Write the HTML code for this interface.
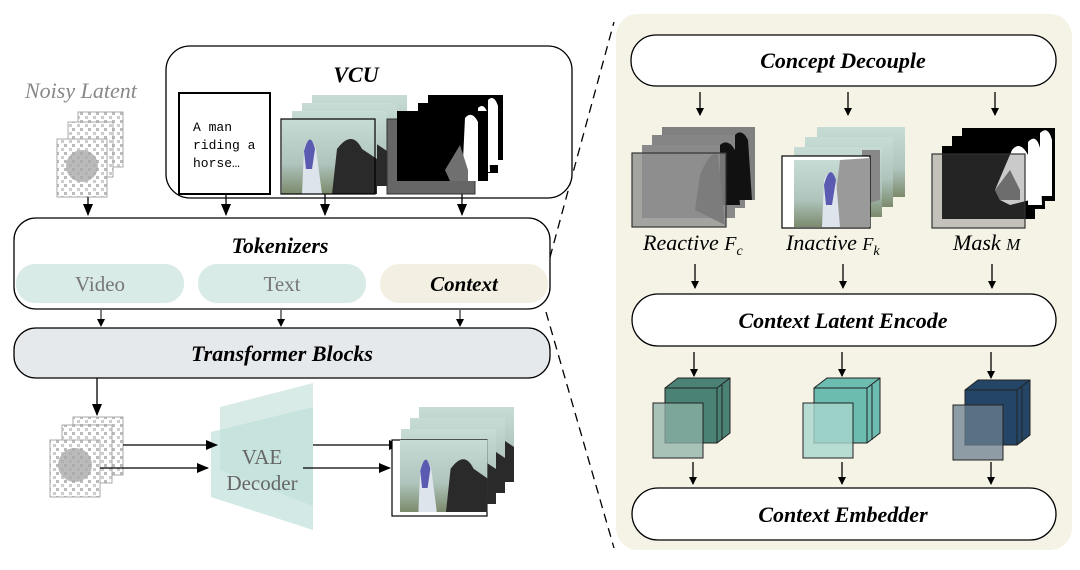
<!DOCTYPE html>
<html><head><meta charset="utf-8"><style>
html,body{margin:0;padding:0;background:#fff;}
svg{display:block;}
.b{font-family:"Liberation Serif",serif;font-weight:bold;font-style:italic;}
.s{font-family:"Liberation Serif",serif;}
</style></head><body>
<svg width="1080" height="570" viewBox="0 0 1080 570" xmlns="http://www.w3.org/2000/svg">
<defs>
<marker id="a" markerWidth="8" markerHeight="8" refX="7" refY="4" orient="auto" markerUnits="userSpaceOnUse">
<path d="M0,0 L8,4 L0,8 z" fill="#000"/></marker>
<marker id="a2" markerWidth="12" markerHeight="10" refX="11" refY="5" orient="auto" markerUnits="userSpaceOnUse">
<path d="M0,0 L12,5 L0,10 z" fill="#000"/></marker>
<linearGradient id="sky" x1="0" y1="0" x2="0" y2="1">
<stop offset="0" stop-color="#c8dcd6"/><stop offset="0.6" stop-color="#aec4bc"/><stop offset="1" stop-color="#7c8a6c"/></linearGradient>
<pattern id="nz" width="8" height="8" patternUnits="userSpaceOnUse">
<rect width="8" height="8" fill="#fff"/><rect x="0" y="0" width="3" height="3" fill="#bbb"/><rect x="5" y="4" width="3" height="3" fill="#ccc"/></pattern>
<g id="cube">
<rect x="0" y="0" width="50" height="58" fill="url(#nz)" stroke="#aaa"/>
</g>
<g id="vidframe">
<rect width="95" height="75" fill="url(#sky)"/>
<path d="M50,75 L55,30 Q70,10 80,30 L95,40 L95,75z" fill="#2a2a2a"/>
<path d="M20,75 L22,30 Q28,12 34,30 L40,75z" fill="#dde4ec"/>
<path d="M22,32 Q28,10 33,30 L30,50 L24,50z" fill="#5a5ab0"/>
</g>
</defs>

<!-- Right panel -->
<rect x="616" y="14" width="456" height="536" rx="22" fill="#f5f2e6"/>
<rect x="631" y="35" width="425" height="51" rx="25" fill="#fff" stroke="#000" stroke-width="1.3"/>
<text x="843" y="68" text-anchor="middle" class="b" font-size="22">Concept Decouple</text>
<g stroke="#000" stroke-width="1.3" fill="none">
<line x1="700" y1="92" x2="700" y2="115" marker-end="url(#a)"/>
<line x1="848" y1="92" x2="848" y2="115" marker-end="url(#a)"/>
<line x1="995" y1="92" x2="995" y2="115" marker-end="url(#a)"/>
</g>
<!-- Reactive frames -->
<g>
<rect x="662" y="127" width="93" height="73" fill="#808080"/>
<rect x="652" y="135" width="93" height="73" fill="#858585"/>
<rect x="642" y="145" width="93" height="73" fill="#8a8a8a"/>
<path d="M735,135 Q742,128 748,140 L752,200 L735,200z" fill="#111"/>
<path d="M720,145 Q728,138 735,150 L740,205 L720,205z" fill="#111"/>
<path d="M700,175 Q710,150 718,155 L725,225 L695,210z" fill="#333"/>
<rect x="632" y="153" width="94" height="74" fill="#8e8e8e" fill-opacity="0.8" stroke="#333" stroke-width="1.2"/>
</g>
<!-- Inactive frames -->
<g>
<rect x="817" y="127" width="88" height="70" fill="url(#sky)"/>
<rect x="805" y="137" width="88" height="70" fill="url(#sky)"/>
<rect x="794" y="147" width="88" height="70" fill="url(#sky)"/>
<path d="M862,150 L880,150 L880,200 L862,205z" fill="#888"/>
<rect x="782" y="156" width="88" height="72" fill="#fff" stroke="#000" stroke-width="1.2"/>
<rect x="794" y="160" width="76" height="67" fill="url(#sky)"/>
<path d="M840,160 L870,158 L870,227 L832,227z" fill="#9a9a9a"/>
<use href="#vidframe" x="0" y="0" transform="translate(792,152) scale(0.8,1)" opacity="0"/>
<path d="M822,227 L824,180 Q830,165 836,180 L840,227z" fill="#dde4ec"/>
<path d="M824,185 Q830,162 836,180 L832,205 L826,205z" fill="#5a5ab0"/>
</g>
<!-- Mask frames -->
<g>
<rect x="962" y="128" width="93" height="73" fill="#000"/>
<rect x="952" y="136" width="93" height="73" fill="#000"/>
<rect x="942" y="146" width="93" height="73" fill="#000"/>
<path d="M1040,133 Q1048,125 1052,140 L1052,196 L1040,196z" fill="#fff"/>
<path d="M1028,142 Q1036,133 1040,148 L1042,205 L1028,205z" fill="#fff"/>
<path d="M1012,150 Q1020,140 1028,155 L1030,200 L1010,205 L1000,200 L995,190z" fill="#fff"/>
<path d="M995,190 L1010,170 L1020,190 L1020,200 L1000,200z" fill="#707070"/>
<rect x="932" y="154" width="93" height="74" fill="#666" fill-opacity="0.35" stroke="#333" stroke-width="1.2"/>
</g>
<text x="643" y="250" class="s" font-style="italic" font-size="22">Reactive <tspan font-size="20">F</tspan><tspan font-size="14" dy="5">c</tspan></text>
<text x="786" y="250" class="s" font-style="italic" font-size="22">Inactive <tspan font-size="18">F</tspan><tspan font-size="14" dy="5">k</tspan></text>
<text x="953" y="250" class="s" font-style="italic" font-size="22">Mask <tspan font-size="17">M</tspan></text>
<g stroke="#000" stroke-width="1.3" fill="none">
<line x1="695" y1="264" x2="695" y2="288" marker-end="url(#a)"/>
<line x1="843" y1="264" x2="843" y2="288" marker-end="url(#a)"/>
<line x1="992" y1="264" x2="992" y2="288" marker-end="url(#a)"/>
</g>
<rect x="632" y="294" width="424" height="52" rx="26" fill="#fff" stroke="#000" stroke-width="1.3"/>
<text x="843" y="328" text-anchor="middle" class="b" font-size="22">Context Latent Encode</text>
<g stroke="#000" stroke-width="1.3" fill="none">
<line x1="694" y1="352" x2="694" y2="376" marker-end="url(#a)"/>
<line x1="842" y1="352" x2="842" y2="376" marker-end="url(#a)"/>
<line x1="991" y1="352" x2="991" y2="378" marker-end="url(#a)"/>
</g>
<!-- cubes -->
<g stroke="#222" stroke-width="1">
<path d="M665,388 L678,378 L730,378 L730,433 L717,443 L665,443z" fill="#4a8276"/>
<line x1="717" y1="388" x2="730" y2="378"/><line x1="717" y1="388" x2="717" y2="443"/><line x1="665" y1="388" x2="717" y2="388"/>
<line x1="722" y1="385" x2="722" y2="440"/>
<rect x="653" y="403" width="50" height="55" fill="#8fb1a8" fill-opacity="0.75"/>
<path d="M814,388 L827,378 L880,378 L880,433 L867,443 L814,443z" fill="#6cbcb0"/>
<line x1="867" y1="388" x2="880" y2="378"/><line x1="867" y1="388" x2="867" y2="443"/><line x1="814" y1="388" x2="867" y2="388"/>
<line x1="872" y1="385" x2="872" y2="440"/>
<rect x="803" y="403" width="50" height="55" fill="#a7d6cd" fill-opacity="0.8"/>
<path d="M965,390 L978,380 L1030,380 L1030,435 L1017,445 L965,445z" fill="#244566"/>
<line x1="1017" y1="390" x2="1030" y2="380"/><line x1="1017" y1="390" x2="1017" y2="445"/><line x1="965" y1="390" x2="1017" y2="390"/>
<line x1="1022" y1="387" x2="1022" y2="442"/>
<rect x="953" y="405" width="50" height="55" fill="#6b7f90" fill-opacity="0.75"/>
</g>
<g stroke="#000" stroke-width="1.3" fill="none">
<line x1="693" y1="462" x2="693" y2="484" marker-end="url(#a)"/>
<line x1="842" y1="462" x2="842" y2="484" marker-end="url(#a)"/>
<line x1="991" y1="462" x2="991" y2="484" marker-end="url(#a)"/>
</g>
<rect x="632" y="488" width="424" height="52" rx="26" fill="#fff" stroke="#000" stroke-width="1.3"/>
<text x="843" y="522" text-anchor="middle" class="b" font-size="22">Context Embedder</text>

<!-- dashed -->
<line x1="546" y1="272" x2="614" y2="22" stroke="#000" stroke-width="1.3" stroke-dasharray="9,6"/>
<line x1="546" y1="312" x2="614" y2="548" stroke="#000" stroke-width="1.3" stroke-dasharray="9,6"/>

<!-- Left: VCU -->
<rect x="166" y="46" width="406" height="152" rx="24" fill="#fff" stroke="#000" stroke-width="1.3"/>
<text x="356" y="82" text-anchor="middle" class="b" font-size="22">VCU</text>
<text x="25" y="98" class="s" font-style="italic" font-size="22" fill="#888">Noisy Latent</text>
<rect x="179" y="93" width="91" height="101" fill="#fff" stroke="#000" stroke-width="2"/>
<text font-family="Liberation Mono,monospace" font-size="13" x="193" y="131">A man</text>
<text font-family="Liberation Mono,monospace" font-size="13" x="193" y="149">riding a</text>
<text font-family="Liberation Mono,monospace" font-size="13" x="193" y="167">horse…</text>
<!-- video stack -->
<use href="#vidframe" x="312" y="95"/>
<use href="#vidframe" x="302" y="103"/>
<use href="#vidframe" x="292" y="111"/>
<use href="#vidframe" x="282" y="119"/>
<rect x="281" y="119" width="94" height="75" fill="none" stroke="#000" stroke-width="1.2"/>
<!-- mask stack -->
<rect x="428" y="95" width="75" height="65" fill="#000"/>
<rect x="418" y="103" width="80" height="70" fill="#000"/>
<rect x="408" y="111" width="80" height="70" fill="#000"/>
<path d="M488,100 Q494,94 498,106 L498,165 L488,165z" fill="#fff"/>
<path d="M478,108 Q484,102 488,114 L490,172 L478,172z" fill="#fff"/>
<path d="M465,120 L478,120 L478,178 L460,178z" fill="#fff"/>
<path d="M445,160 L460,140 L470,165 L470,170 L450,170z" fill="#707070"/>
<rect x="387" y="119" width="88" height="75" fill="#666" stroke="#333" stroke-width="1"/>
<rect x="397" y="111" width="91" height="70" fill="#000"/>
<path d="M465,118 Q472,110 478,122 L478,181 L462,181z" fill="#fff"/>
<path d="M445,170 L460,145 L468,170 L468,181 L450,181z" fill="#707070"/>
<!-- noisy latent cube -->
<g>
<rect x="78" y="112" width="45" height="55" fill="url(#nz)" stroke="#aaa"/>
<rect x="68" y="122" width="45" height="55" fill="url(#nz)" stroke="#aaa"/>
<rect x="57" y="139" width="50" height="58" fill="url(#nz)" stroke="#aaa"/>
<circle cx="82" cy="166" r="16" fill="#aaa" opacity="0.8"/>
</g>
<g stroke="#000" stroke-width="1.3" fill="none">
<line x1="88" y1="197" x2="88" y2="215" marker-end="url(#a2)"/>
<line x1="226" y1="194" x2="226" y2="215" marker-end="url(#a2)"/>
<line x1="325" y1="194" x2="325" y2="215" marker-end="url(#a2)"/>
<line x1="462" y1="194" x2="462" y2="215" marker-end="url(#a2)"/>
</g>
<!-- Tokenizers -->
<rect x="14" y="218" width="536" height="91" rx="22" fill="#fff" stroke="#000" stroke-width="1.3"/>
<text x="280" y="253" text-anchor="middle" class="b" font-size="22">Tokenizers</text>
<rect x="16" y="264" width="168" height="39" rx="19" fill="#d8ebe6"/>
<text x="100" y="291" text-anchor="middle" class="s" font-size="21" fill="#777">Video</text>
<rect x="198" y="264" width="168" height="39" rx="19" fill="#d8ebe6"/>
<text x="282" y="291" text-anchor="middle" class="s" font-size="21" fill="#777">Text</text>
<rect x="380" y="264" width="168" height="39" rx="19" fill="#f3f0e3"/>
<text x="464" y="291" text-anchor="middle" class="b" font-size="21">Context</text>
<g stroke="#000" stroke-width="1" fill="none">
<line x1="101" y1="310" x2="101" y2="326" marker-end="url(#a)"/>
<line x1="281" y1="310" x2="281" y2="326" marker-end="url(#a)"/>
<line x1="460" y1="310" x2="460" y2="326" marker-end="url(#a)"/>
</g>
<rect x="14" y="328" width="536" height="50" rx="22" fill="#e6e9ec" stroke="#000" stroke-width="1.3"/>
<text x="282" y="361" text-anchor="middle" class="b" font-size="22">Transformer Blocks</text>
<line x1="97" y1="378" x2="97" y2="415" stroke="#000" stroke-width="1.3" marker-end="url(#a2)"/>
<!-- output noisy cube -->
<g>
<rect x="73" y="417" width="50" height="58" fill="url(#nz)" stroke="#aaa"/>
<rect x="62" y="425" width="50" height="58" fill="url(#nz)" stroke="#aaa"/>
<rect x="50" y="440" width="50" height="57" fill="url(#nz)" stroke="#aaa"/>
<circle cx="75" cy="465" r="17" fill="#aaa" opacity="0.8"/>
</g>
<!-- VAE decoder -->
<path d="M220,407 L313,383 L313,506 L220,470z" fill="#cfe6e1" opacity="0.8"/>
<path d="M211,432 L313,407 L313,530 L211,497z" fill="#bfe0da" opacity="0.7"/>
<text x="262" y="464" text-anchor="middle" class="s" font-size="21" fill="#666">VAE</text>
<text x="262" y="490" text-anchor="middle" class="s" font-size="21" fill="#666">Decoder</text>
<g stroke="#000" stroke-width="1.3" fill="none">
<line x1="123" y1="445" x2="217" y2="445" marker-end="url(#a2)"/>
<line x1="100" y1="468" x2="208" y2="468" marker-end="url(#a2)"/>
<line x1="313" y1="445" x2="400" y2="445" marker-end="url(#a2)"/>
<line x1="303" y1="468" x2="390" y2="468" marker-end="url(#a2)"/>
</g>
<use href="#vidframe" x="419" y="407"/>
<use href="#vidframe" x="410" y="418"/>
<use href="#vidframe" x="401" y="429"/>
<rect x="392" y="440" width="95" height="76" fill="#fff" stroke="#000" stroke-width="1.2"/>
<use href="#vidframe" transform="translate(400,440) scale(0.92,0.96)"/>
</svg>
</body></html>
